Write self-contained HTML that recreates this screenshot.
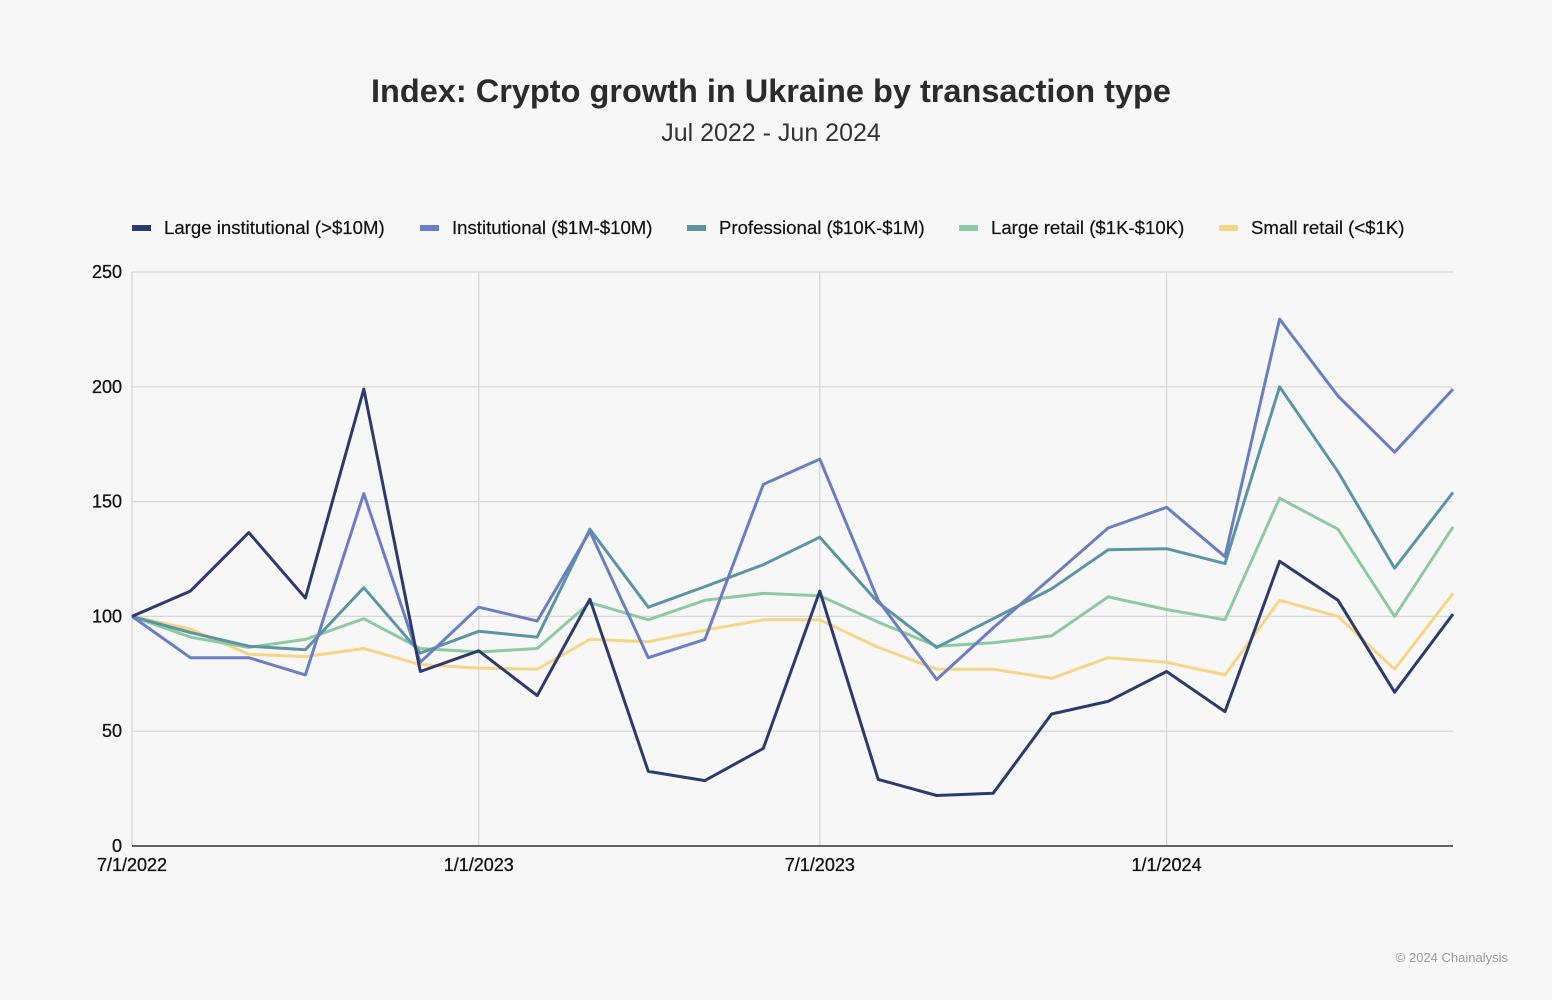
<!DOCTYPE html>
<html><head><meta charset="utf-8"><style>
body{margin:0;background:#fff;font-family:"Liberation Sans",sans-serif}
#wrap{position:absolute;left:0;top:0;width:1552px;height:1000px;background:#f7f7f7}
</style></head><body>
<div id="wrap">
<svg id="chart" width="1552" height="1000">
<text x="771" y="102" text-anchor="middle" font-size="32.5" font-weight="bold" fill="#2b2b2b">Index: Crypto growth in Ukraine by transaction type</text>
<text x="771" y="141" text-anchor="middle" font-size="25" fill="#333">Jul 2022 - Jun 2024</text>
<g id="legend"></g>
<g id="grid"></g>
<g id="series"></g>
<g id="axes"></g>
<text x="1508" y="962" text-anchor="end" font-size="13" fill="#999">© 2024 Chainalysis</text>
</svg></div>
<script>
const seriesNames=["Large institutional (>$10M)","Institutional ($1M-$10M)","Professional ($10K-$1M)","Large retail ($1K-$10K)","Small retail (<$1K)"];
const largeInst=[100,111,136.5,108,199,76,85,65.5,107.5,32.5,28.5,42.5,111,29,22,23,57.5,63,76,58.5,124,107,67,101];
const inst=[100,82,82,74.5,153.5,80,104,98,137,82,90,157.5,168.5,107,72.5,95,117,138.5,147.5,126,229.5,196,171.5,199];
const prof=[100,93,87,85.5,112.5,84,93.5,91,138,104,113,122.5,134.5,106,86.5,99,112,129,129.5,123,200,163,121,154];
const largeRetail=[100,91,86.5,90,99,86,84.5,86,106,98.5,107,110,109,97.5,87,88.5,91.5,108.5,103,98.5,151.5,138,100,139];
const smallRetail=[100,94.5,83.5,82.5,86,79,77.5,77,90,89,94,98.5,98.5,86.5,77,77,73,82,80,74.5,107,100,77,110];
const yTicks=[0,50,100,150,200,250];
const xTickLabels=["7/1/2022","1/1/2023","7/1/2023","1/1/2024"];
const colors=["#2d3a6e","#6b7ec4","#5b95a3","#8fc9a3","#f7d587"];
const NS="http://www.w3.org/2000/svg";
const X0=132,X1=1453,Y0=846,Y1=272;
const start=Date.UTC(2022,6,1),end=Date.UTC(2024,5,1);
function monthDate(i){return Date.UTC(2022,6+i,1);}
function xs(t){return X0+(t-start)/(end-start)*(X1-X0);}
function ys(v){return Y0-v/250*(Y0-Y1);}
function mk(tag,attrs,parent){const e=document.createElementNS(NS,tag);for(const k in attrs)e.setAttribute(k,attrs[k]);parent.appendChild(e);return e;}
const grid=document.getElementById('grid'),axes=document.getElementById('axes'),ser=document.getElementById('series'),leg=document.getElementById('legend');
yTicks.forEach(v=>{
 const l=mk('line',{x1:X0,x2:X1,y1:ys(v),y2:ys(v),stroke:v===0?'#333':'#d6d6d6','stroke-width':v===0?1.5:1.2},v===0?axes:grid);
 
 
 const t=mk('text',{x:X0-10,y:ys(v)+6,'text-anchor':'end','font-size':18,fill:'#111','stroke':'#111','stroke-width':0.3},axes);
 t.textContent=v;
 
 
});
xTickLabels.forEach(s=>{
 const p=s.split('/');const t0=Date.UTC(+p[2],+p[0]-1,+p[1]);const x=xs(t0);
 const l=mk('line',{x1:x,x2:x,y1:Y1,y2:Y0,stroke:'#d6d6d6','stroke-width':1.2},grid);
 
 
 const t=mk('text',{x:x,y:871,'text-anchor':'middle','font-size':18,fill:'#111','stroke':'#111','stroke-width':0.3},axes);
 t.textContent=s;
 
 
});
const yl=mk('line',{x1:X0,x2:X0,y1:Y1,y2:Y0,stroke:'#d6d6d6','stroke-width':1.2},grid);


const all=[largeInst,inst,prof,largeRetail,smallRetail];
for(let s=4;s>=0;s--){
 const pts=all[s].map((v,i)=>xs(monthDate(i)).toFixed(1)+','+ys(v).toFixed(1)).join(' ');
 const pl=mk('polyline',{points:pts,fill:'none',stroke:colors[s],'stroke-width':3,'stroke-linejoin':'round'},ser);
 
 
}
const legX=[132,420,687,959,1219];
seriesNames.forEach((n,i)=>{
 const r=mk('rect',{x:legX[i],y:225,width:19,height:6,fill:colors[i]},leg);
 
 
 const t=mk('text',{x:legX[i]+32,y:234,'font-size':18.6,fill:'#111','stroke':'#111','stroke-width':0.2},leg);
 t.textContent=n;
 
 
});
</script>
</body></html>
